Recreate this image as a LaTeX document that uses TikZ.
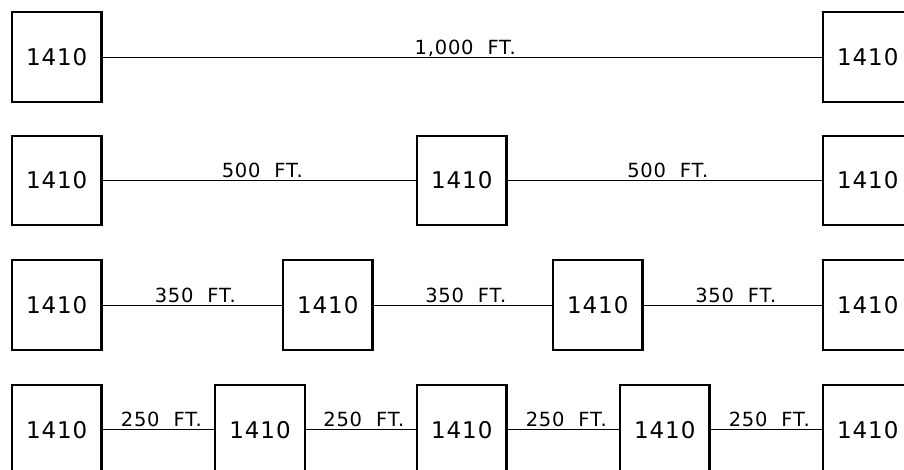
\documentclass[tikz,border=0pt]{standalone}
\usepackage{fontspec}
\newfontfamily\cadfont[LetterSpace=4]{DejaVu Sans}
\tikzset{
  unitbox/.style={draw, line width=2.2pt, minimum width=89.5pt, minimum height=89.5pt,
    inner sep=0pt, font=\cadfont\fontsize{23}{23}\selectfont},
  run/.style={line width=0.8pt},
  lbl/.style={anchor=base, inner sep=0pt, yshift=3pt, xshift=3pt,
    font=\cadfont\fontsize{19.5}{19.5}\selectfont}
}
\begin{document}
\begin{tikzpicture}[x=1pt,y=-1pt]
\useasboundingbox (0,0) rectangle (904,469);
\clip (0,0) rectangle (904,469);
% row 1
\node[unitbox] (a1) at (56.75,57) {1410};
\node[unitbox] (a2) at (867.75,57) {1410};
\draw[run] (a1.east) -- (a2.west) node[lbl, midway] {1,000\ \ FT.};
% row 2
\node[unitbox] (b1) at (56.75,180.5) {1410};
\node[unitbox] (b2) at (461.75,180.5) {1410};
\node[unitbox] (b3) at (867.75,180.5) {1410};
\draw[run] (b1.east) -- (b2.west) node[lbl, midway] {500\ \ FT.};
\draw[run] (b2.east) -- (b3.west) node[lbl, midway] {500\ \ FT.};
% row 3
\node[unitbox] (c1) at (56.75,305) {1410};
\node[unitbox] (c2) at (327.75,305) {1410};
\node[unitbox] (c3) at (597.75,305) {1410};
\node[unitbox] (c4) at (867.75,305) {1410};
\draw[run] (c1.east) -- (c2.west) node[lbl, midway] {350\ \ FT.};
\draw[run] (c2.east) -- (c3.west) node[lbl, midway] {350\ \ FT.};
\draw[run] (c3.east) -- (c4.west) node[lbl, midway] {350\ \ FT.};
% row 4
\node[unitbox] (d1) at (56.75,429.75) {1410};
\node[unitbox] (d2) at (260,429.75) {1410};
\node[unitbox] (d3) at (461.75,429.75) {1410};
\node[unitbox] (d4) at (664.75,429.75) {1410};
\node[unitbox] (d5) at (867.75,429.75) {1410};
\draw[run] (d1.east) -- (d2.west) node[lbl, midway] {250\ \ FT.};
\draw[run] (d2.east) -- (d3.west) node[lbl, midway] {250\ \ FT.};
\draw[run] (d3.east) -- (d4.west) node[lbl, midway] {250\ \ FT.};
\draw[run] (d4.east) -- (d5.west) node[lbl, midway] {250\ \ FT.};
\end{tikzpicture}
\end{document}
